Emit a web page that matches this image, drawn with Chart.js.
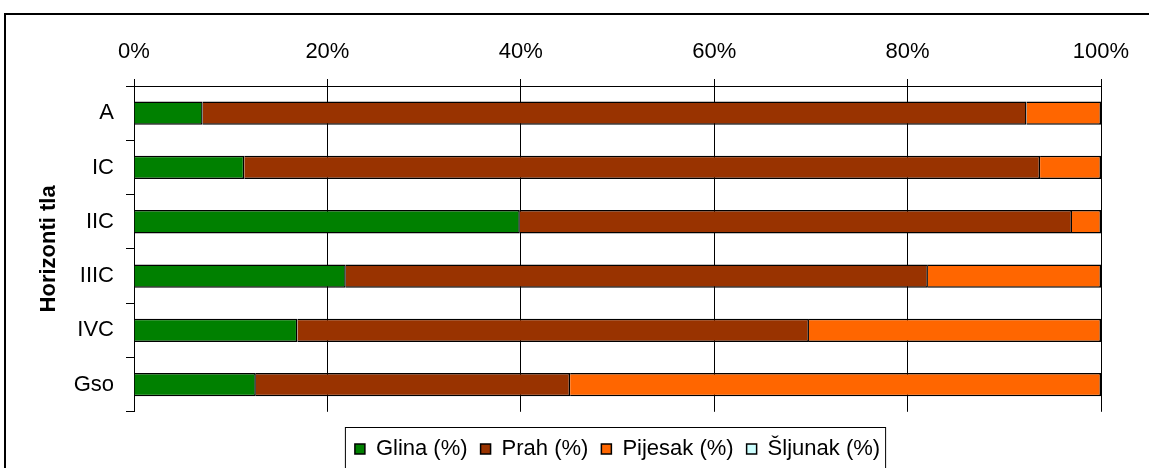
<!DOCTYPE html>
<html>
<head>
<meta charset="utf-8">
<script src="https://cdn.jsdelivr.net/npm/chart.js@4.4.1/dist/chart.umd.min.js"></script>
<style>
    html, body { margin: 0; padding: 0; background: #fff; }
    #wrap { width: 1149px; height: 468px; overflow: hidden; position: relative; }
</style>
</head>
<body>
<div id="wrap"><canvas id="soilChart" width="1149" height="470"></canvas></div>
<script>
// horizonti i udjeli frakcija (%)
var horizonti = ['A', 'IC', 'IIC', 'IIIC', 'IVC', 'Gso'];
var glina   = [7.1, 11.4, 39.9, 21.9, 16.9, 12.6];
var prah    = [85.2, 82.3, 57.1, 60.2, 52.9, 32.5];
var pijesak = [7.7, 6.3, 3.0, 17.9, 30.2, 54.9];
var sljunak = [0, 0, 0, 0, 0, 0];
var xTicks  = [0, 20, 40, 60, 80, 100];

var fontFamily = "'Liberation Sans', Arial, sans-serif";

// okvir oko cijelog grafa i oko legende
var framePlugin = {
    id: 'frame',
    beforeDraw: function(chart) {
        var c = chart.ctx;
        c.save();
        c.fillStyle = '#fff';
        c.fillRect(0, 0, chart.width, chart.height);
        c.strokeStyle = '#000';
        c.lineWidth = 2;
        c.strokeRect(5, 14, 1300, 800);
        c.restore();
    },
    afterDraw: function(chart) {
        var boxes = chart.legend.legendHitBoxes;
        if (!boxes || !boxes.length) return;
        var first = boxes[0], last = boxes[boxes.length - 1];
        var c = chart.ctx;
        c.save();
        c.strokeStyle = '#000';
        c.lineWidth = 1;
        c.strokeRect(first.left - 9.5, 427.5, last.left + last.width - first.left + 15, 100);
        c.restore();
    }
};

document.addEventListener('DOMContentLoaded', function() {
    var ctx = document.getElementById('soilChart').getContext('2d');
    var myChart = new Chart(ctx, {
        type: 'bar',
        data: {
            labels: horizonti,
            datasets: [
                { label: 'Glina (%)', data: glina, backgroundColor: '#008000', borderColor: '#000', borderWidth: 1.5 },
                { label: 'Prah (%)', data: prah, backgroundColor: '#993300', borderColor: '#000', borderWidth: 1.5 },
                { label: 'Pijesak (%)', data: pijesak, backgroundColor: '#FF6600', borderColor: '#000', borderWidth: 1.5 },
                { label: 'Šljunak (%)', data: sljunak, backgroundColor: '#CCFFFF', borderColor: '#000', borderWidth: 1.5 }
            ]
        },
        options: {
            indexAxis: 'y',
            responsive: false,
            animation: false,
            barPercentage: 0.43,
            categoryPercentage: 1,
            layout: { padding: { left: 20, top: 13, right: 48, bottom: 0 } },
            scales: {
                x: {
                    position: 'top',
                    stacked: true,
                    min: 0,
                    max: 100,
                    afterBuildTicks: function(scale) {
                        scale.ticks = xTicks.map(function(v) { return { value: v }; });
                    },
                    afterFit: function(scale) { scale.height = 73; },
                    grid: { color: '#000', lineWidth: 1, tickLength: 7, tickColor: '#000' },
                    border: { color: '#000', width: 1 },
                    ticks: {
                        color: '#000',
                        padding: 14,
                        font: { family: fontFamily, size: 22 },
                        callback: function(v) { return v + '%'; }
                    }
                },
                y: {
                    stacked: true,
                    afterFit: function(scale) { scale.width = 114; },
                    grid: { offset: true, drawOnChartArea: false, color: '#000', tickLength: 8 },
                    border: { color: '#000', width: 1 },
                    ticks: { color: '#000', padding: 12, font: { family: fontFamily, size: 22 } },
                    title: {
                        display: true,
                        text: 'Horizonti tla',
                        color: '#000',
                        padding: { top: 16, bottom: 0 },
                        font: { family: fontFamily, size: 22, weight: 'bold' }
                    }
                }
            },
            plugins: {
                legend: {
                    position: 'bottom',
                    fullSize: false,
                    title: { display: true, text: '', padding: { top: 0, bottom: 12 }, font: { size: 1 } },
                    labels: {
                        color: '#000',
                        boxWidth: 10,
                        boxHeight: 10,
                        padding: 13,
                        font: { family: fontFamily, size: 22 }
                    }
                },
                tooltip: { enabled: false }
            }
        },
        plugins: [framePlugin]
    });
});
</script>
</body>
</html>
